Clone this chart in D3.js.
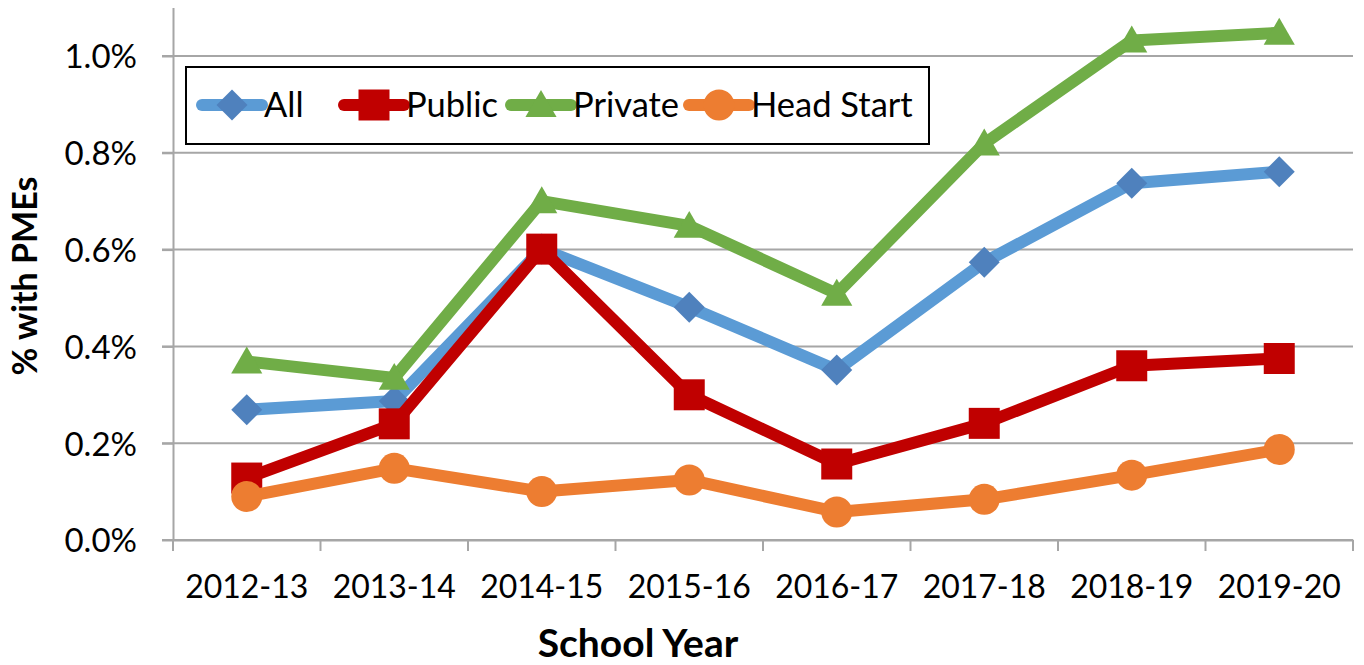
<!DOCTYPE html>
<html>
<head>
<meta charset="utf-8">
<script src="https://cdn.jsdelivr.net/npm/d3@7"></script>
<style>
  body { margin: 0; background: #fff; }
  svg { display: block; font-family: Lato, "Open Sans", sans-serif; }
</style>
</head>
<body>
<div id="chart"></div>
<script>
// données (en %)
const years = ["2012-13", "2013-14", "2014-15", "2015-16", "2016-17", "2017-18", "2018-19", "2019-20"];
const allVals = [0.269, 0.287, 0.601, 0.481, 0.351, 0.574, 0.737, 0.761];
const publicVals = [0.128, 0.240, 0.601, 0.300, 0.157, 0.241, 0.360, 0.375];
const privateVals = [0.369, 0.335, 0.700, 0.649, 0.509, 0.819, 1.032, 1.048];
const headStartVals = [0.090, 0.148, 0.100, 0.124, 0.058, 0.084, 0.134, 0.187];
const yTicks = [0, 0.2, 0.4, 0.6, 0.8, 1.0];

const series = [
  { name: "All", values: allVals, line: "#5b9bd5", mark: "#4f81bd", shape: "diamond" },
  { name: "Public", values: publicVals, line: "#c00000", mark: "#c00000", shape: "square" },
  { name: "Private", values: privateVals, line: "#70ad47", mark: "#70ad47", shape: "triangle" },
  { name: "Head Start", values: headStartVals, line: "#ed7d31", mark: "#ed7d31", shape: "circle" }
];

const width = 1364, height = 665;
const svg = d3.select("#chart").append("svg")
  .attr("width", width)
  .attr("height", height);

const x = d3.scaleBand().domain(years).range([173, 1353]);
const y = d3.scaleLinear().domain([0, 1.1]).range([540, 7.6]);
const cx = d => x(d) + x.bandwidth() / 2;
const gray = "#a6a6a6";

// grille horizontale
svg.append("g")
  .selectAll("line")
  .data(yTicks)
  .enter()
  .append("line")
  .attr("x1", 162).attr("x2", 1353)
  .attr("y1", d => y(d)).attr("y2", d => y(d))
  .attr("stroke", gray)
  .attr("stroke-width", 2);

// axe Y
const yAxis = svg.append("g")
  .attr("transform", "translate(173,0)")
  .call(d3.axisLeft(y).tickValues(yTicks).tickSize(11).tickSizeOuter(0).tickFormat(d => d.toFixed(1) + "%"));
yAxis.select(".domain").attr("stroke", gray).attr("stroke-width", 2);
yAxis.selectAll(".tick line").attr("stroke", gray).attr("stroke-width", 2);
yAxis.selectAll(".tick text")
  .attr("x", -36)
  .attr("dy", "0.36em")
  .attr("font-size", 33)
  .attr("font-family", "Lato, sans-serif")
  .attr("fill", "#000");

// axe X
const xAxis = svg.append("g")
  .attr("transform", "translate(0,540)")
  .call(d3.axisBottom(x).tickSize(0).tickSizeOuter(0));
xAxis.select(".domain").attr("stroke", gray).attr("stroke-width", 2);
xAxis.selectAll(".tick text")
  .attr("y", 35)
  .attr("dy", "0.71em")
  .attr("font-size", 32)
  .attr("font-family", "Lato, sans-serif")
  .attr("fill", "#000");

// graduations entre les catégories
svg.append("g")
  .selectAll("line")
  .data(years.map(d => x(d)).concat([x.range()[1]]))
  .enter()
  .append("line")
  .attr("x1", d => d).attr("x2", d => d)
  .attr("y1", 540).attr("y2", 551)
  .attr("stroke", gray)
  .attr("stroke-width", 2);

// titres des axes
svg.append("text")
  .attr("transform", "translate(37,276) rotate(-90)")
  .attr("text-anchor", "middle")
  .attr("font-size", 34)
  .attr("font-weight", "bold")
  .text("% with PMEs");

svg.append("text")
  .attr("x", 638)
  .attr("y", 657)
  .attr("text-anchor", "middle")
  .attr("font-size", 39)
  .attr("font-weight", "bold")
  .text("School Year");

function symbolFor(shape) {
  if (shape === "diamond") return d3.symbol().type(d3.symbolSquare).size(480);
  if (shape === "square") return d3.symbol().type(d3.symbolSquare).size(961);
  if (shape === "triangle") return d3.symbol().type(d3.symbolTriangle).size(420);
  return d3.symbol().type(d3.symbolCircle).size(755);
}

function drawMarker(g, s, px, py) {
  const m = g.append("path")
    .attr("d", symbolFor(s.shape)())
    .attr("fill", s.mark);
  if (s.shape === "diamond") m.attr("transform", `translate(${px},${py}) rotate(45)`);
  else if (s.shape === "triangle") m.attr("transform", `translate(${px},${py + 3})`);
  else m.attr("transform", `translate(${px},${py})`);
}

const line = d3.line().x((d, i) => cx(years[i])).y(d => y(d));

// séries
series.forEach(s => {
  const g = svg.append("g");
  g.append("path")
    .datum(s.values)
    .attr("d", line)
    .attr("fill", "none")
    .attr("stroke", s.line)
    .attr("stroke-width", 12)
    .attr("stroke-linejoin", "round")
    .attr("stroke-linecap", "round");
  s.values.forEach((v, i) => drawMarker(g, s, cx(years[i]), y(v)));
});

// légende
const legend = svg.append("g");
legend.append("rect")
  .attr("x", 186).attr("y", 67)
  .attr("width", 743).attr("height", 77)
  .attr("fill", "#fff")
  .attr("stroke", "#000")
  .attr("stroke-width", 2);

const legendX = [202, 344, 511, 689];
series.forEach((s, i) => {
  const lx = legendX[i], ly = 105;
  legend.append("line")
    .attr("x1", lx).attr("x2", lx + 60)
    .attr("y1", ly).attr("y2", ly)
    .attr("stroke", s.line)
    .attr("stroke-width", 12)
    .attr("stroke-linecap", "round");
  drawMarker(legend, s, lx + 30, ly);
  legend.append("text")
    .attr("x", lx + 62)
    .attr("y", ly + 12)
    .attr("font-size", 34.5)
    .text(s.name);
});
</script>
</body>
</html>
